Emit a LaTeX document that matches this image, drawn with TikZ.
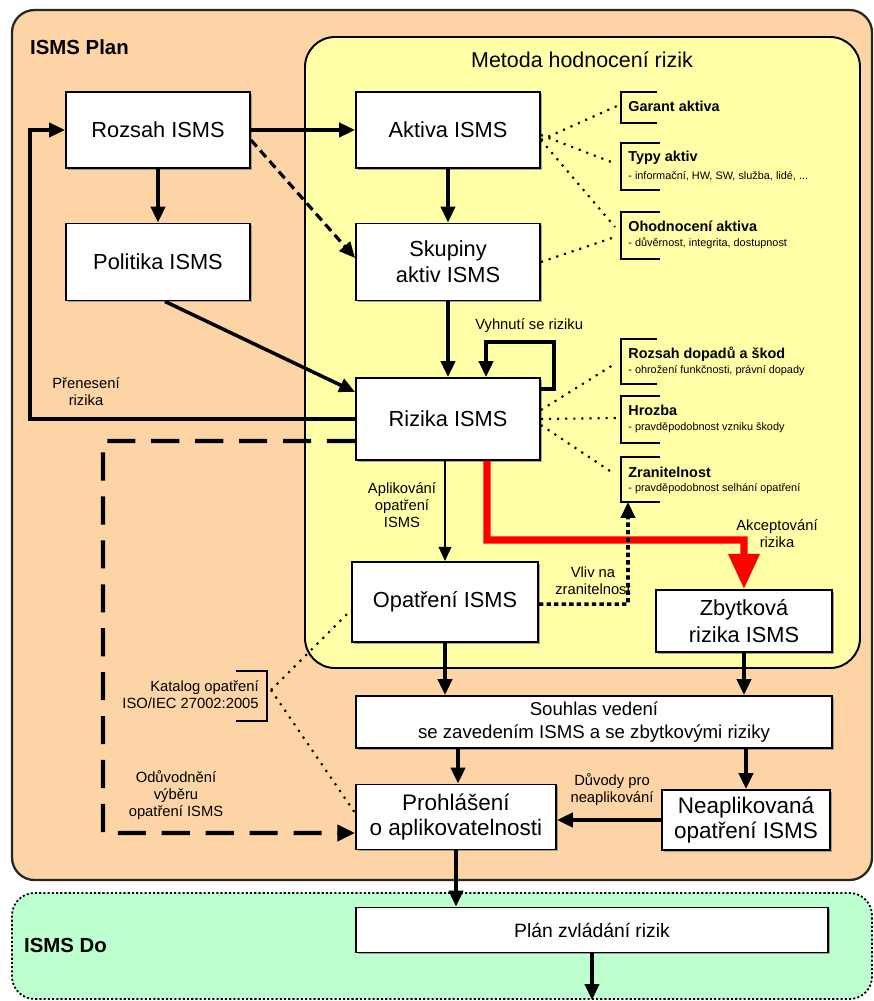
\documentclass[tikz,border=0pt]{standalone}
\usepackage{fontspec}
\setmainfont{Liberation Sans}
\usetikzlibrary{arrows.meta,shadows}

\definecolor{planfill}{RGB}{253,212,166}
\definecolor{metodafill}{RGB}{255,255,168}
\definecolor{dofill}{RGB}{190,255,208}

\tikzset{
  box/.style={draw=black, line width=1.1pt, fill=white, align=center,
    font=\fontsize{12.4}{15}\selectfont, inner sep=1pt,
    drop shadow={shadow xshift=1.1pt, shadow yshift=-1.1pt, fill=black!50, opacity=.7}},
  arr/.style={line width=2pt, -{Triangle[length=9pt,width=8pt]}},
  thinarr/.style={line width=1.4pt, -{Triangle[length=8pt,width=7pt]}},
  dashedarr/.style={line width=1.8pt, dash pattern=on 5pt off 3pt, -{Triangle[length=9pt,width=8pt]}},
  longdash/.style={line width=2.4pt, dash pattern=on 16pt off 9pt, -{Triangle[length=10pt,width=9pt]}},
  dotarr/.style={line width=2pt, dash pattern=on 2.5pt off 1.8pt, -{Triangle[length=9pt,width=8pt]}},
  redarr/.style={red, line width=4pt, -{Triangle[length=20pt,width=17pt]}},
  dotline/.style={line width=1.2pt, dash pattern=on 1.2pt off 3.4pt},
  brk/.style={line width=1pt},
  lbl/.style={align=center, font=\fontsize{8.4}{9.6}\selectfont, inner sep=0pt},
  btitle/.style={anchor=west, font=\bfseries\fontsize{8.2}{9}\selectfont, inner sep=0pt},
  bsub/.style={anchor=west, font=\fontsize{6.2}{7}\selectfont, inner sep=0pt},
}

\begin{document}
\begin{tikzpicture}[x=0.02cm, y=-0.02cm]
\useasboundingbox (0,0) rectangle (874,1001);

% phase panels
\draw[fill=planfill, draw=black!85, line width=1.3pt, rounded corners=0.45cm] (12,10) rectangle (872,880);
\draw[fill=metodafill, draw=black, line width=1.1pt, rounded corners=0.6cm] (305,37) rectangle (860,668);
\draw[fill=dofill, draw=black, line width=1pt, dash pattern=on 1.2pt off 1.2pt, rounded corners=0.45cm] (12,893) rectangle (872,999);

\node[anchor=west, font=\bfseries\fontsize{11.6}{14}\selectfont] (plantitle) at (24,47) {ISMS Plan};
\node[anchor=west, font=\bfseries\fontsize{11.6}{14}\selectfont] (dotitle) at (18,945) {ISMS Do};
\node[font=\fontsize{12.2}{14}\selectfont] (metodatitle) at (582,60) {Metoda hodnocení rizik};

% process boxes
\node[box, minimum width=3.68cm, minimum height=1.52cm] (rozsah) at (158,130) {Rozsah ISMS};
\node[box, minimum width=3.68cm, minimum height=1.54cm] (politika) at (158,262) {Politika ISMS};
\node[box, minimum width=3.68cm, minimum height=1.52cm] (aktiva) at (448,130) {Aktiva ISMS};
\node[box, minimum width=3.68cm, minimum height=1.54cm] (skupiny) at (448,262) {Skupiny\\aktiv ISMS};
\node[box, minimum width=3.68cm, minimum height=1.64cm] (rizika) at (448,419) {Rizika ISMS};
\node[box, minimum width=3.72cm, minimum height=1.6cm] (opatreni) at (445,602) {Opatření ISMS};
\node[box, minimum width=3.52cm, minimum height=1.24cm] (zbyt) at (744,621) {Zbytková\\rizika ISMS};
\node[box, minimum width=9.52cm, minimum height=1.04cm, font=\fontsize{10.6}{13}\selectfont] (souhlas) at (594,722) {Souhlas vedení\\se zavedením ISMS a se zbytkovými riziky};
\node[box, minimum width=4.0cm, minimum height=1.3cm, font=\fontsize{12.8}{14.2}\selectfont] (prohl) at (456,817) {Prohlášení\\o aplikovatelnosti};
\node[box, minimum width=3.36cm, minimum height=1.2cm, font=\fontsize{12.8}{14.2}\selectfont] (neapl) at (746,820) {Neaplikovaná\\opatření ISMS};
\node[box, minimum width=9.44cm, minimum height=0.9cm, font=\fontsize{11}{13}\selectfont] (plan) at (592,930) {Plán zvládání rizik};

% attribute brackets
\draw[brk] (657,92) -- (621,92) -- (621,123) -- (657,123);
\node[btitle] (garant) at (628,106) {Garant aktiva};
\draw[brk] (660,143) -- (621,143) -- (621,190) -- (660,190);
\node[btitle] (typy) at (628,158) {Typy aktiv};
\node[bsub] (typysub) at (628,176) {- informační, HW, SW, služba, lidé, ...};
\draw[brk] (660,212) -- (621,212) -- (621,259) -- (660,259);
\node[btitle] (ohod) at (628,226) {Ohodnocení aktiva};
\node[bsub] (ohodsub) at (628,243) {- důvěrnost, integrita, dostupnost};
\draw[brk] (657,339) -- (621,339) -- (621,384) -- (657,384);
\node[btitle] (dopady) at (628,354) {Rozsah dopadů a škod};
\node[bsub] (dopadysub) at (628,371) {- ohrožení funkčnosti, právní dopady};
\draw[brk] (660,396) -- (621,396) -- (621,443) -- (660,443);
\node[btitle] (hrozba) at (628,410) {Hrozba};
\node[bsub] (hrozbasub) at (628,428) {- pravděpodobnost vzniku škody};
\draw[brk] (660,457) -- (621,457) -- (621,502) -- (660,502);
\node[btitle] (zran) at (628,472) {Zranitelnost};
\node[bsub] (zransub) at (628,489) {- pravděpodobnost selhání opatření};

\coordinate (garantin) at (617,106);
\coordinate (typyin) at (614,163);
\coordinate (ohodin) at (615,227);
\coordinate (ohodin2) at (615,237);
\coordinate (dopadyin) at (613,365);
\coordinate (hrozbain) at (618,418);
\coordinate (zranin) at (613,473);
\coordinate (zranbot) at (628,502);

% catalogue bracket
\draw[brk] (236,671) -- (267,671) -- (267,721) -- (236,721);
\node[anchor=east, align=right, font=\fontsize{8.4}{9.6}\selectfont, inner sep=0pt] (katalog) at (259,695) {Katalog opatření\\ISO/IEC 27002:2005};
\coordinate (katpt) at (271,690);

% dotted associations
\draw[dotline] ([yshift=-0.2cm]aktiva.east) -- (garantin);
\draw[dotline] ([yshift=-0.1cm]aktiva.east) -- (typyin);
\draw[dotline] ([yshift=-0.2cm]aktiva.east) -- (ohodin);
\draw[dotline] (skupiny.east) -- (ohodin2);
\draw[dotline] ([yshift=0.18cm]rizika.east) -- (dopadyin);
\draw[dotline] (rizika.east) -- (hrozbain);
\draw[dotline] ([yshift=-0.12cm]rizika.east) -- (zranin);
\draw[dotline] (katpt) -- ([yshift=-0.16cm]opatreni.west);
\draw[dotline] (katpt) -- ([yshift=0.08cm]prohl.west);

% main flow
\draw[arr] (rozsah.east) -- (aktiva.west);
\draw[arr] (rozsah.south) -- (politika.north);
\draw[dashedarr] ([yshift=-0.2cm]rozsah.east) -- ([yshift=0.08cm]skupiny.west);
\draw[arr] (aktiva.south) -- (skupiny.north);
\draw[arr] ([xshift=0.14cm]politika.south) -- ([yshift=0.54cm]rizika.west);
\draw[arr] (skupiny.south) -- (rizika.north);
\draw[arr] ([yshift=-0.24cm]rizika.north east) -- ++(13,0) -- ++(0,-47) -| ([xshift=2.62cm]rizika.north west);
\draw[arr] (rizika.west) -- (30,419) -- (30,130) -- (rozsah.west);
\draw[longdash] ([yshift=-0.44cm]rizika.west) -- (103,441) -- (103,833) -- ([yshift=-0.32cm]prohl.west);
\draw[thinarr] (opatreni.north |- rizika.south) -- (opatreni.north);
\draw[redarr] ([xshift=0.78cm]rizika.south) -- (487,540) -- (744,540) -- (zbyt.north);
\draw[dotarr] ([yshift=-0.04cm]opatreni.east) -- (628,604) -- (zranbot);
\draw[arr] (opatreni.south) -- (opatreni.south |- souhlas.north);
\draw[arr] (zbyt.south) -- (zbyt.south |- souhlas.north);
\draw[arr] ([xshift=0.04cm]prohl.north |- souhlas.south) -- ([xshift=0.04cm]prohl.north);
\draw[arr] (neapl.north |- souhlas.south) -- (neapl.north);
\draw[arr] (neapl.west) -- (neapl.west -| prohl.east);
\draw[arr] (prohl.south) -- (prohl.south |- plan.north);
\coordinate (doout) at (592,1000);
\draw[arr] (plan.south) -- (doout);

% flow labels
\node[lbl] (prenes) at (86,392) {Přenesení\\rizika};
\node[lbl, anchor=west] (vyhnuti) at (475,326) {Vyhnutí se riziku};
\node[lbl] (aplik) at (402,505) {Aplikování\\opatření\\ISMS};
\node[lbl] (vliv) at (593,581) {Vliv na\\zranitelnost};
\node[lbl] (akcept) at (777,534) {Akceptování\\rizika};
\node[lbl] (duvody) at (612,790) {Důvody pro\\neaplikování};
\node[lbl] (oduv) at (176,795) {Odůvodnění\\výběru\\opatření ISMS};
\end{tikzpicture}
\end{document}
